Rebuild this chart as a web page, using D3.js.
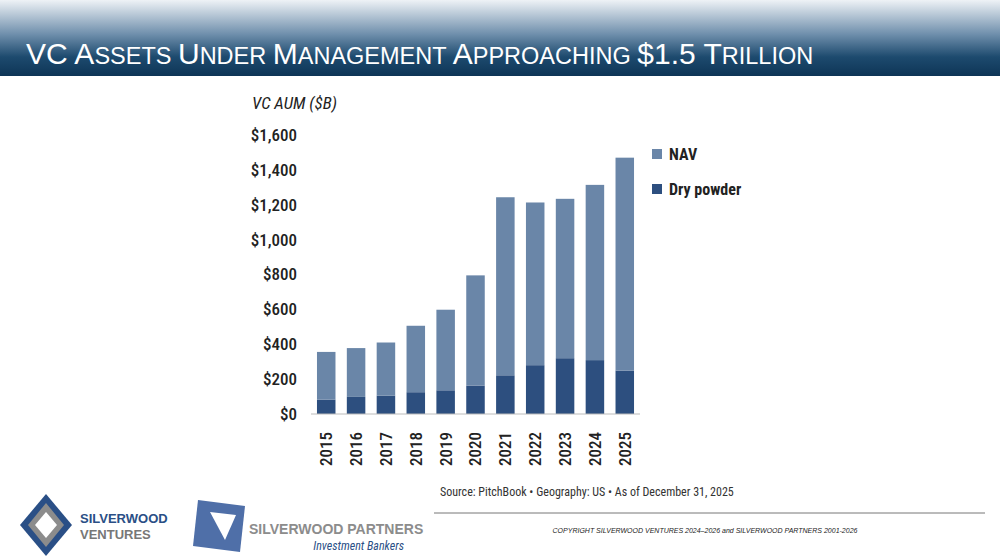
<!DOCTYPE html>
<html><head><meta charset="utf-8">
<script src="https://cdn.jsdelivr.net/npm/d3@7"></script>
<style>body{margin:0;background:#fff}svg{display:block}</style>
</head><body>
<script>
const years = ['2015','2016','2017','2018','2019','2020','2021','2022','2023','2024','2025'];
const dryPowder = [82, 98, 105, 125, 136, 163, 222, 280, 320, 309, 249];
const totalAum = [356, 378, 410, 506, 598, 795, 1243, 1213, 1234, 1314, 1470];
const nav = totalAum.map((t, i) => t - dryPowder[i]);
const yTicks = [0, 200, 400, 600, 800, 1000, 1200, 1400, 1600];

const COND = '"Roboto Condensed","Liberation Sans Narrow","Arial Narrow",Roboto,sans-serif';
const svg = d3.select('body').append('svg').attr('width', 1000).attr('height', 560);

// header band
const grad = svg.append('defs').append('linearGradient').attr('id', 'hdr').attr('x1', 0).attr('x2', 0).attr('y1', 0).attr('y2', 1);
grad.append('stop').attr('offset', 0).attr('stop-color', '#eef2f6');
grad.append('stop').attr('offset', 0.45).attr('stop-color', '#6f8fac');
grad.append('stop').attr('offset', 0.75).attr('stop-color', '#1d4a6e');
grad.append('stop').attr('offset', 1).attr('stop-color', '#0e3556');
svg.append('rect').attr('width', 1000).attr('height', 76).attr('fill', 'url(#hdr)');

const title = svg.append('text').attr('x', 26).attr('y', 64).attr('fill', '#fff')
  .attr('font-family', 'Arial, "Liberation Sans", sans-serif');
const words = ['VC', 'Assets', 'Under', 'Management', 'Approaching', '$1.5', 'Trillion'];
words.forEach((w, i) => {
  const sp = i < words.length - 1 ? ' ' : '';
  if (w === 'VC' || w === '$1.5') {
    title.append('tspan').attr('font-size', 30).text(w + sp);
  } else {
    title.append('tspan').attr('font-size', 30).text(w[0]);
    title.append('tspan').attr('font-size', 23.5).text(w.slice(1).toUpperCase() + sp);
  }
});

// chart
const x = d3.scaleBand().domain(years).range([311, 640]).paddingInner(0.38).paddingOuter(0.2);
const y = d3.scaleLinear().domain([0, 1600]).range([414, 135]);

svg.append('text').attr('x', 252).attr('y', 109).attr('font-family', COND).attr('font-style', 'italic')
  .attr('font-size', 17).attr('fill', '#222').text('VC AUM ($B)');

const yAxis = svg.append('g').attr('transform', 'translate(300,0)')
  .call(d3.axisLeft(y).tickValues(yTicks).tickSize(0).tickFormat(d => '$' + d3.format(',')(d)));
yAxis.select('.domain').remove();
yAxis.selectAll('text').attr('font-family', COND).attr('font-size', 17).attr('fill', '#222').attr('font-weight', 500);

const stack = d3.stack().keys(['dry', 'nav'])(years.map((yr, i) => ({ yr, dry: dryPowder[i], nav: nav[i] })));
const colors = { dry: '#2d4f7f', nav: '#6a86a8' };
svg.append('g').selectAll('g').data(stack).join('g').attr('fill', s => colors[s.key])
  .selectAll('rect').data(s => s).join('rect')
  .attr('x', d => x(d.data.yr)).attr('width', x.bandwidth())
  .attr('y', d => y(d[1])).attr('height', d => y(d[0]) - y(d[1]));

svg.append('line').attr('x1', 311).attr('x2', 640).attr('y1', y(0)).attr('y2', y(0)).attr('stroke', '#bbb');

const xAxis = svg.append('g').attr('transform', `translate(0,${y(0)})`)
  .call(d3.axisBottom(x).tickSize(0));
xAxis.select('.domain').remove();
xAxis.selectAll('text').attr('font-family', COND).attr('font-size', 17).attr('fill', '#222').attr('font-weight', 500)
  .attr('transform', 'rotate(-90)').attr('text-anchor', 'end').attr('dx', '-18').attr('dy', '0.35em')
  .attr('x', 0).attr('y', 0);

// legend
const legend = [['NAV', colors.nav], ['Dry powder', colors.dry]];
const lg = svg.append('g').selectAll('g').data(legend).join('g')
  .attr('transform', (d, i) => `translate(652,${154 + i * 35})`);
lg.append('rect').attr('width', 10).attr('height', 10).attr('y', -5).attr('fill', d => d[1]);
lg.append('text').attr('x', 17).attr('dy', '0.35em').attr('font-family', COND).attr('font-weight', 700)
  .attr('font-size', 16).attr('fill', '#222').text(d => d[0]);

// footer
svg.append('text').attr('x', 440).attr('y', 496).attr('font-family', COND).attr('font-size', 12).attr('fill', '#333')
  .text('Source: PitchBook  •  Geography: US  •  As of December 31, 2025');
svg.append('line').attr('x1', 434).attr('x2', 985).attr('y1', 513).attr('y2', 513).attr('stroke', '#777');
svg.append('text').attr('x', 705).attr('y', 533).attr('text-anchor', 'middle').attr('font-family', 'Arial, sans-serif')
  .attr('font-style', 'italic').attr('font-size', 7).attr('fill', '#222')
  .text('COPYRIGHT SILVERWOOD VENTURES 2024–2026 and SILVERWOOD PARTNERS 2001-2026');

// logos
const lv = svg.append('g');
lv.append('polygon').attr('points', '46,494 72,525 46,556 20,525').attr('fill', '#2a4f86');
lv.append('polygon').attr('points', '46,503 64,525 46,547 28,525').attr('fill', '#8c8c8c');
lv.append('polygon').attr('points', '46,512 57,525 46,538 35,525').attr('fill', '#fff');
lv.append('text').attr('x', 80).attr('y', 523).attr('font-family', 'Arial, sans-serif').attr('font-weight', 700)
  .attr('font-size', 13).attr('fill', '#2a4f86').text('SILVERWOOD');
lv.append('text').attr('x', 80).attr('y', 539).attr('font-family', 'Arial, sans-serif').attr('font-weight', 700)
  .attr('font-size', 13).attr('fill', '#777').text('VENTURES');
const lp = svg.append('g');
lp.append('polygon').attr('points', '198,500 245,506 240,552 193,546').attr('fill', '#4f6fa8');
lp.append('polygon').attr('points', '210,512 236,515 225,540').attr('fill', '#fff');
lp.append('text').attr('x', 249).attr('y', 534).attr('font-family', 'Arial, sans-serif').attr('font-weight', 700)
  .attr('font-size', 14).attr('fill', '#8c8c8c').text('SILVERWOOD PARTNERS');
lp.append('text').attr('x', 404).attr('y', 550).attr('text-anchor', 'end').attr('font-family', COND)
  .attr('font-style', 'italic').attr('font-size', 12).attr('fill', '#2a4f86').text('Investment Bankers');
</script>
</body></html>
